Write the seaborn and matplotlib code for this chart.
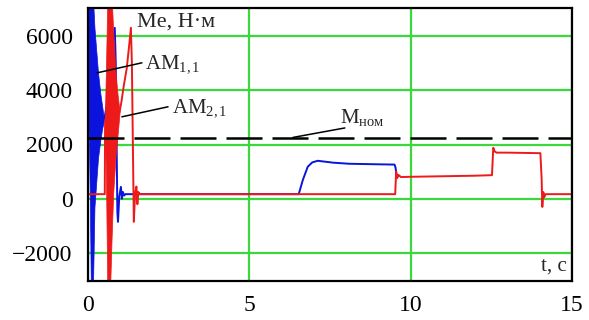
import numpy as np
import pandas as pd
import matplotlib
matplotlib.use("Agg")
import matplotlib.pyplot as plt
import seaborn as sns

# ---------------- data ----------------
# high-frequency oscillation envelopes (start-up transients)
blue_band_t = [0.00, 0.03, 0.06, 0.09, 0.15, 0.20, 0.31, 0.38, 0.44, 0.50]
blue_band_hi = [7500, 7500, 7500, 7500, 7500, 6300, 4650, 3900, 3400, 2900]
blue_band_lo = [3000, 2150, -300, -3500, -3500, -300, 1500, 2150, 2600, 2900]

red_band_t = [0.52, 0.56, 0.60, 0.63, 0.68, 0.73, 0.78, 0.85, 0.92, 0.98]
red_band_hi = [2900, 5000, 7500, 7500, 7500, 7500, 6200, 4700, 3800, 3200]
red_band_lo = [2900, 500, -3500, -3500, -3500, -1500, 200, 1500, 2400, 3200]

# motor AM1,1 torque (blue)
blue_t = [0.50, 0.62, 0.70, 0.76, 0.83, 0.86, 0.91, 0.93, 0.97, 1.02, 1.05, 1.08,
          1.12, 1.16, 6.53, 6.66, 6.81, 6.95, 7.12, 7.60, 8.10, 9.00, 9.50, 9.53, 9.56, 9.60]
blue_v = [2900, 3700, 4700, 5700, 6300, 5000, -500, -850, 100, 440, 0, 250,
          120, 170, 170, 700, 1180, 1340, 1400, 1330, 1290, 1270, 1260, 1150, 900, 820]

# motor AM2,1 torque (red)
red_t = [0.00, 0.52, 0.53, 0.98, 1.04, 1.10, 1.20, 1.28, 1.33, 1.36, 1.42, 1.46,
         1.50, 1.53, 1.56, 1.60, 9.52, 9.55, 9.58, 9.62, 9.70, 10.0, 11.0, 12.0,
         12.52, 12.56, 12.60, 12.66, 13.0, 13.5, 14.02, 14.06, 14.08, 14.11, 14.14, 14.18, 15.0]
red_v = [170, 170, 2900, 3200, 3600, 4100, 4800, 5700, 6300, 5000, -850, 200,
         450, -200, 250, 170, 170, 1000, 760, 880, 800, 810, 830, 850,
         870, 1880, 1750, 1700, 1700, 1690, 1680, 700, -300, 250, 60, 170, 170]

M_nom = 2250

x_ticks = [0, 5, 10, 15]
y_ticks = [-2000, 0, 2000, 4000, 6000]

# ---------------- style ----------------
sns.set_theme(style="white")
plt.rcParams["font.family"] = ["Liberation Serif", "DejaVu Serif"]
plt.rcParams["mathtext.fontset"] = "custom"
plt.rcParams["mathtext.rm"] = "Liberation Serif"
plt.rcParams["mathtext.it"] = "Liberation Serif:italic"
plt.rcParams["mathtext.bf"] = "Liberation Serif:bold"

BLUE = "#0a14dc"
RED = "#ee1a1a"
GREEN = "#3ad83a"

fig = plt.figure(figsize=(5.89, 3.20), dpi=100)
ax = fig.add_axes([88 / 589, 1 - 281 / 320, (572 - 88) / 589, (281 - 8) / 320])

ax.set_xlim(0, 15)
ax.set_ylim(-3030, 7030)

# grid
for xv in x_ticks:
    ax.axvline(xv, color=GREEN, lw=1.6, zorder=0)
for yv in y_ticks:
    ax.axhline(yv, color=GREEN, lw=1.6, zorder=0)


def seaborn_line(t, v, color, z):
    n = len(ax.lines)
    sns.lineplot(x=t, y=v, sort=False, estimator=None, color=color, lw=1.4, ax=ax)
    for ln in ax.lines[n:]:
        ln.set_zorder(z)


# blue motor
ax.fill_between(blue_band_t, blue_band_lo, blue_band_hi, color=BLUE, lw=0.5, zorder=2)
seaborn_line(blue_t, blue_v, BLUE, 2.1)

# red motor
ax.fill_between(red_band_t, red_band_lo, red_band_hi, color=RED, lw=0.5, zorder=3)
seaborn_line(red_t, red_v, RED, 3.1)

# nominal torque
ax.axhline(M_nom, color="black", lw=1.8, linestyle=(0, (14.4, 4.0)), zorder=4)

# annotations
ax.plot([0.28, 1.67], [4640, 5010], color="black", lw=1.1, zorder=5)
ax.plot([1.05, 2.48], [3020, 3390], color="black", lw=1.1, zorder=5)
ax.plot([6.35, 7.96], [2260, 2610], color="black", lw=1.1, zorder=5)

ax.text(1.52, 6340, "Me, Н·м", fontsize=16, ha="left", va="baseline", zorder=6)
ax.text(1.78, 4830, r"AM$_{\mathrm{1,1}}$", fontsize=15, ha="left", va="baseline", zorder=6)
ax.text(2.60, 3200, r"AM$_{\mathrm{2,1}}$", fontsize=15, ha="left", va="baseline", zorder=6)
ax.text(7.81, 2800, r"M$_{\mathrm{ном}}$", fontsize=15, ha="left", va="baseline", zorder=6)
ax.text(14.84, -2660, "t, с", fontsize=15, ha="right", va="baseline", zorder=6)

ax.set_xticks(x_ticks)
ax.set_yticks(y_ticks)
ax.set_xticklabels([str(v) for v in x_ticks])
ax.set_yticklabels([("\u2212" + str(-v)) if v < 0 else str(v) for v in y_ticks])
ax.tick_params(axis="both", length=0, labelsize=17, colors="black")
ax.tick_params(axis="y", pad=11)
ax.tick_params(axis="x", pad=10)
ax.set_xlabel("")
ax.set_ylabel("")
for s in ax.spines.values():
    s.set_color("black")
    s.set_linewidth(1.6)
    s.set_zorder(7)
ax.grid(False)

fig.savefig("out.png", dpi=100)
